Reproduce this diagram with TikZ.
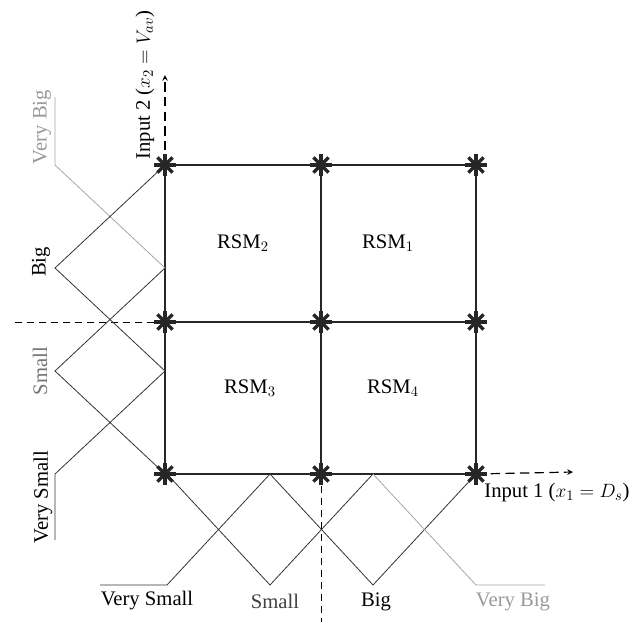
\documentclass[tikz,border=0pt]{standalone}
\usepackage{fontspec}
\setmainfont{Liberation Serif}
\usetikzlibrary{arrows, positioning}

\begin{document}
\begin{tikzpicture}[
        x=0.75pt, y=-0.75pt,
        font=\fontsize{15.5}{18}\selectfont,
        grid/.style={draw=black!85, line width=0.9pt},
        mf/.style={draw=black!80, line width=0.6pt},
        mflight/.style={draw=black!35, line width=0.6pt},
        axis/.style={line width=0.9pt, dash pattern=on 7pt off 4pt, -stealth},
        guide/.style={line width=0.7pt, dash pattern=on 5pt off 4pt},
        ray/.style={line width=2.6pt, draw=black!85},
        lbl/.style={inner sep=0pt},
        vlbl/.style={inner sep=0pt, rotate=90}
    ]
    \useasboundingbox (0,0) rectangle (644,625);

    % Grid points of the rule base
    \foreach \c/\x in {1/165,2/321,3/476}
        \foreach \r/\y in {1/165,2/322,3/474}
            \coordinate (g\c\r) at (\x,\y);

    % Grid lines
    \foreach \i in {1,2,3} {
        \draw[grid] (g1\i) -- (g3\i);
        \draw[grid] (g\i1) -- (g\i3);
    }

    % Axes
    \coordinate (x2tip) at (165,75);
    \coordinate (x1tip) at (573,472);
    \draw[axis] (g11) -- (x2tip);
    \draw[axis] (g33) -- (x1tip);

    % Cut lines
    \coordinate (x2cut) at (15,322);
    \coordinate (x1cut) at (321,622);
    \draw[guide] (x2cut) -- (g12);
    \draw[guide] (g23) -- (x1cut);

    % Membership functions of input 2
    \draw[mflight] (55,97) -- (55,165) -- (165,268);
    \draw[mf] (165,165) -- (55,268) -- (165,371);
    \draw[mf] (165,268) -- (55,371) -- (165,474);
    \draw[mf] (165,371) -- (55,474) -- (55,540);

    % Membership functions of input 1
    \draw[mf] (100,585) -- (167,585) -- (270,474);
    \draw[mf] (167,474) -- (270,585) -- (373,474);
    \draw[mf] (270,474) -- (373,585) -- (476,474);
    \draw[mflight] (373,474) -- (476,585) -- (545,585);

    % Stars on the grid points
    \foreach \c in {1,2,3}
        \foreach \r in {1,2,3}
            \foreach \a in {0,45,90,135}
                \draw[ray] ([shift={(\a:8pt)}]g\c\r) -- ([shift={(\a+180:8pt)}]g\c\r);

    % Rule cells
    \node[lbl] (rsm2) at (243,243) {RSM$_2$};
    \node[lbl] (rsm1) at (388,243) {RSM$_1$};
    \node[lbl] (rsm3) at (250,388) {RSM$_3$};
    \node[lbl] (rsm4) at (393,388) {RSM$_4$};

    % Axis labels
    \node[vlbl] (in2) at (145,85) {Input 2 ($x_2 = V_{av}$)};
    \node[lbl] (in1) at (557,493) {Input 1 ($x_1 = D_s$)};

    % Labels of input 2
    \node[vlbl, text=black!40] (vbig2) at (42,127) {Very Big};
    \node[vlbl] (big2) at (41,262) {Big};
    \node[vlbl, text=black!55] (small2) at (40,371) {Small};
    \node[vlbl] (vsmall2) at (43,497) {Very Small};

    % Labels of input 1
    \node[lbl] (vsmall1) at (147,601) {Very Small};
    \node[lbl, text=black!75] (small1) at (275,601) {Small};
    \node[lbl] (big1) at (376,602) {Big};
    \node[lbl, text=black!40] (vbig1) at (513,602) {Very Big};

\end{tikzpicture}
\end{document}
